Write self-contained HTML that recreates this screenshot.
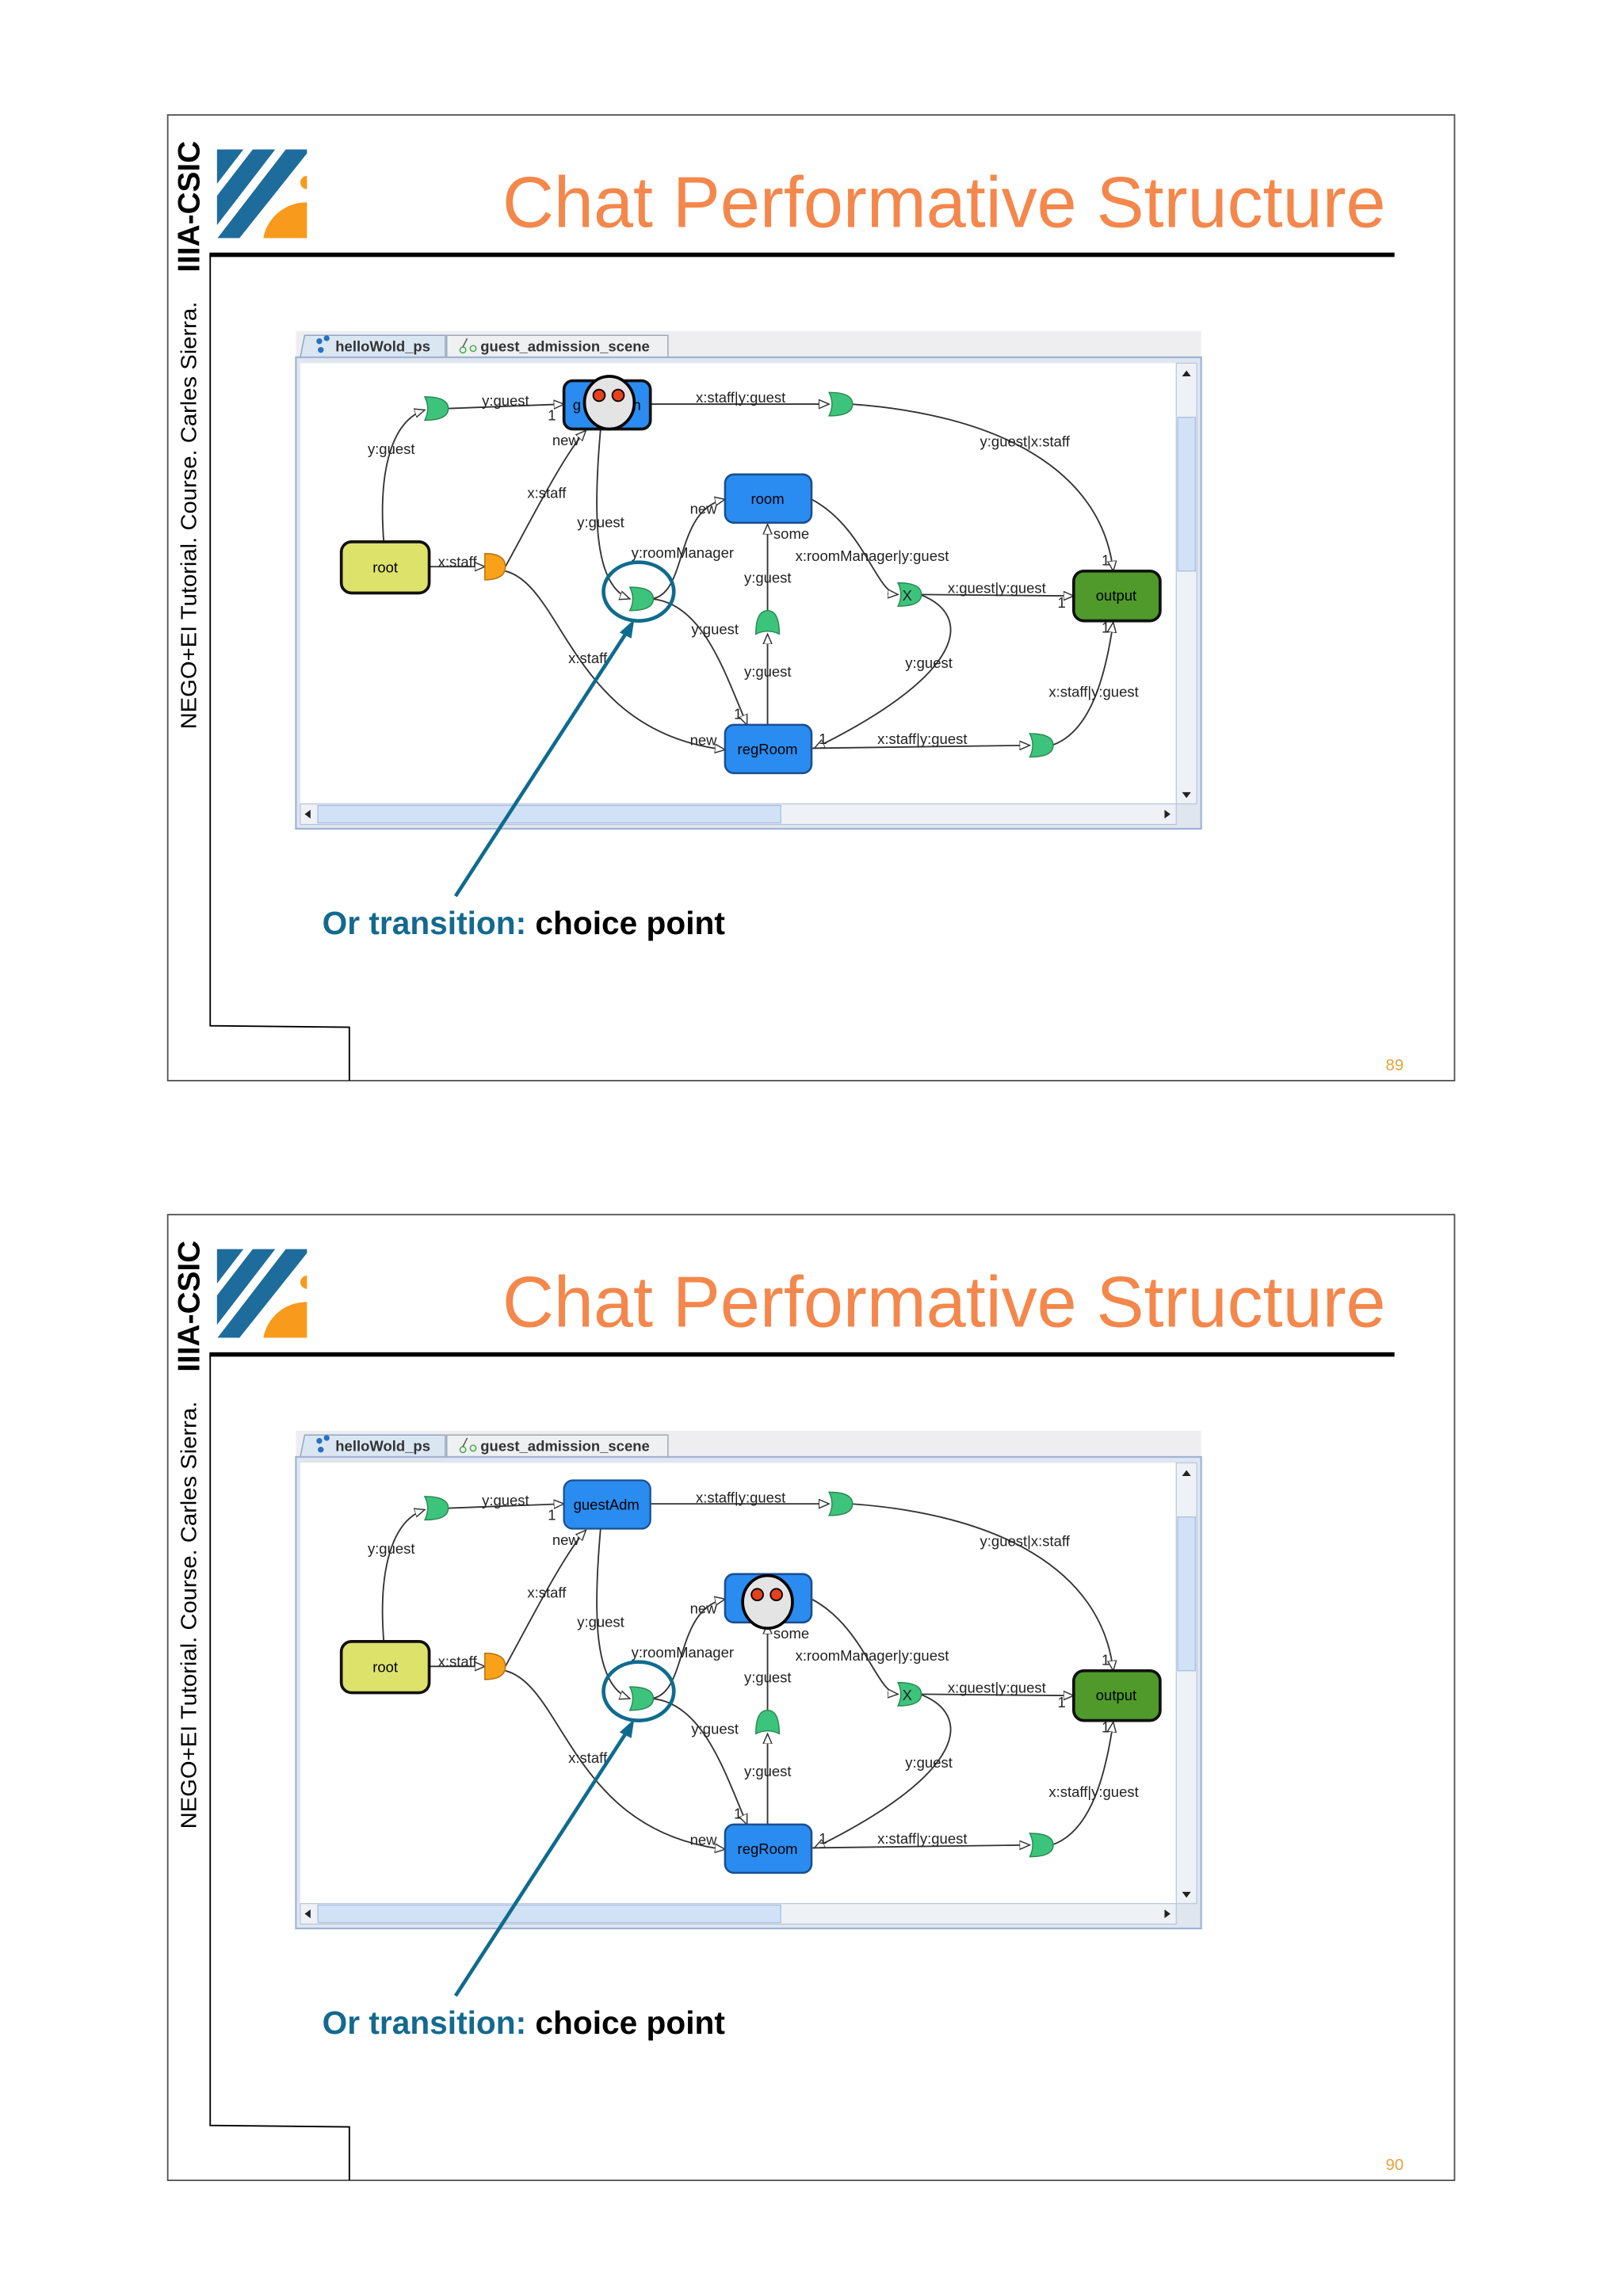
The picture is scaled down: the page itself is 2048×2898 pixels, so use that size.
<!DOCTYPE html>
<html><head><meta charset="utf-8"><style>
html,body{margin:0;padding:0;background:#fff;}
svg{display:block;}
text{font-family:"Liberation Sans",sans-serif;}
.lb{font-size:10px;fill:#222;}
.e{fill:none;stroke:#333;stroke-width:1;}
.tr{fill:#3dc47c;stroke:#2a8a55;stroke-width:0.8;}
.nd{stroke:#111;stroke-width:2;}
</style></head><body>
<svg width="2048" height="2898" viewBox="0 0 1108 1568" preserveAspectRatio="none" xmlns="http://www.w3.org/2000/svg">
<defs>
<marker id="ar" markerWidth="8" markerHeight="8" refX="7" refY="3.5" orient="auto" markerUnits="userSpaceOnUse">
<path d="M0,0.5 L7,3.5 L0,6.5 Z" fill="#fff" stroke="#333" stroke-width="0.8"/>
</marker>
</defs>

<!-- ================= SLIDE 1 ================= -->
<g>
<rect x="114.5" y="78.5" width="878.5" height="659.5" fill="#fff" stroke="#555" stroke-width="1"/>
<text transform="translate(136,186) rotate(-90)" font-size="21" font-weight="bold" fill="#000">IIIA-CSIC</text>
<text transform="translate(134,498) rotate(-90)" font-size="15" fill="#000" textLength="292" lengthAdjust="spacingAndGlyphs">NEGO+EI Tutorial. Course. Carles Sierra.</text>
<g transform="scale(0.542) translate(200,150) scale(0.3333)">
<polygon points="220,115 320,115 220,245" fill="#1d6c9c"/>
<polygon points="355,115 440,115 220,401 220,290" fill="#1d6c9c"/>
<polygon points="480,115 560,115 560,130 305,450 222,450" fill="#1d6c9c"/>
<path d="M395,450 A165,165 0 0 1 560,315 L560,450 Z" fill="#f89a1c"/>
<path d="M560,215 A25,25 0 0 0 560,265 Z" fill="#f89a1c"/>
</g>
<text x="343" y="155" font-size="49" fill="#f4874b" textLength="603" lengthAdjust="spacingAndGlyphs">Chat Performative Structure</text>
<rect x="143" y="172.5" width="809" height="3" fill="#000"/>
<path d="M143.5,174 L143.5,700.5 L238.5,701.5 L238.5,738" fill="none" stroke="#000" stroke-width="1"/>
<text x="946" y="731" font-size="11" fill="#e8a33a">89</text>

<rect x="202" y="226" width="618" height="19" fill="#eeeef0"/>
<path d="M205,244 L208,229 L304,229 L304,244" fill="#dbe6f3" stroke="#8fa5c4" stroke-width="0.8"/>
<path d="M305,244 L305,229 L456,229 L456,244" fill="#eef0f2" stroke="#a0a8b4" stroke-width="0.8"/>
<circle cx="218" cy="233" r="2" fill="#2a70c0"/><circle cx="223" cy="231" r="2" fill="#2a70c0"/><circle cx="219" cy="239" r="2" fill="#2a70c0"/>
<text x="229" y="240" font-size="10" font-weight="bold" fill="#333">helloWold_ps</text>
<circle cx="316" cy="239" r="2" fill="none" stroke="#4a4" stroke-width="0.8"/><circle cx="323" cy="238" r="2" fill="none" stroke="#4a4" stroke-width="0.8"/><path d="M316,237 L319,231" stroke="#555" stroke-width="0.8"/>
<text x="328" y="240" font-size="10" font-weight="bold" fill="#333">guest_admission_scene</text>
<rect x="202" y="244" width="618" height="322" fill="#dfe6f0" stroke="#9fb4d4" stroke-width="1.2"/>
<rect x="205" y="248" width="598" height="301" fill="#fff"/>
<rect x="803" y="248" width="14" height="301" fill="#eef1f5" stroke="#b5c2d6" stroke-width="0.6"/>
<rect x="804" y="285" width="12" height="105" fill="#d2e2f6" stroke="#9fb8da" stroke-width="0.6"/>
<path d="M807,257 L810,253 L813,257 Z" fill="#222"/><path d="M807,541 L810,545 L813,541 Z" fill="#222"/>
<rect x="205" y="549" width="598" height="14" fill="#eef1f5" stroke="#b5c2d6" stroke-width="0.6"/>
<rect x="217" y="550" width="316" height="12" fill="#d2e2f6" stroke="#9fb8da" stroke-width="0.6"/>
<path d="M212,553 L208,556 L212,559 Z" fill="#222"/><path d="M795,553 L799,556 L795,559 Z" fill="#222"/>

<path class="e" d="M262,370 C258,320 268,287 290,280" marker-end="url(#ar)"/>
<path class="e" d="M305,279 L385,276" marker-end="url(#ar)"/>
<path class="e" d="M293,387 L331,387" marker-end="url(#ar)"/>
<path class="e" d="M345,387 C360,360 385,310 400,294" marker-end="url(#ar)"/>
<path class="e" d="M345,390 C385,400 390,500 495,512" marker-end="url(#ar)"/>
<path class="e" d="M410,293 C405,350 405,400 430,409" marker-end="url(#ar)"/>
<path class="e" d="M445,409 C470,405 460,348 495,341" marker-end="url(#ar)"/>
<path class="e" d="M445,409 C480,412 495,460 510,495" marker-end="url(#ar)"/>
<path class="e" d="M524,495 L524,433" marker-end="url(#ar)"/>
<path class="e" d="M524,417 L524,358" marker-end="url(#ar)"/>
<path class="e" d="M444,276 L566,276" marker-end="url(#ar)"/>
<path class="e" d="M581,276 C680,283 752,320 760,390" marker-end="url(#ar)"/>
<path class="e" d="M554,341 C590,360 598,405 613,406" marker-end="url(#ar)"/>
<path class="e" d="M628,406 L733,407" marker-end="url(#ar)"/>
<path class="e" d="M628,406 C665,420 660,460 556,511" marker-end="url(#ar)"/>
<path class="e" d="M554,511 L703,509" marker-end="url(#ar)"/>
<path class="e" d="M718,509 C745,500 755,460 760,425" marker-end="url(#ar)"/>

<path class="tr" d="M290,271 Q306,271 306,279 Q306,287 290,287 Q294,279 290,271 Z"/>
<path class="tr" d="M566,268 Q582,268 582,276 Q582,284 566,284 Q570,276 566,268 Z"/>
<path class="tr" d="M430,401 Q446,401 446,409 Q446,417 430,417 Q434,409 430,401 Z"/>
<path class="tr" d="M613,398 Q629,398 629,406 Q629,414 613,414 Q617,406 613,398 Z"/>
<text x="616" y="410" font-size="10" fill="#222">X</text>
<path class="tr" d="M703,501 Q719,501 719,509 Q719,517 703,517 Q707,509 703,501 Z"/>
<path class="tr" d="M516,433 Q516,417 524,417 Q532,417 532,433 Q524,429 516,433 Z"/>
<path d="M331,378 Q345,378 345,387 Q345,396 331,396 Z" fill="#f8a21a" stroke="#b87010" stroke-width="0.8"/>

<rect class="nd" x="233" y="370" width="60" height="35" rx="7" fill="#dde36a"/>
<text x="263" y="391" font-size="10" text-anchor="middle">root</text>
<rect class="nd" x="385" y="260" width="59" height="33" rx="6" fill="#2a8cf0" stroke="#1a4f90" stroke-width="1.2"/>
<text x="391" y="280" font-size="10">g</text><text x="432" y="280" font-size="10">n</text>
<ellipse cx="416" cy="275" rx="17" ry="18" fill="#e4e4e4" stroke="#000" stroke-width="2"/>
<circle cx="409" cy="270" r="4" fill="#e8401c" stroke="#000" stroke-width="1"/>
<circle cx="422" cy="270" r="4" fill="#e8401c" stroke="#000" stroke-width="1"/>
<rect x="495" y="324" width="59" height="33" rx="6" fill="#2a8cf0" stroke="#1a4f90" stroke-width="1.4"/>
<text x="524" y="344" font-size="10" text-anchor="middle">room</text>
<rect x="495" y="495" width="59" height="33" rx="6" fill="#2a8cf0" stroke="#1a4f90" stroke-width="1.4"/>
<text x="524" y="515" font-size="10" text-anchor="middle">regRoom</text>
<rect class="nd" x="733" y="390" width="59" height="34" rx="7" fill="#4f9a2a"/>
<text x="762" y="410" font-size="10" text-anchor="middle">output</text>

<g class="lb">
<text x="251" y="310">y:guest</text>
<text x="329" y="277">y:guest</text><text x="374" y="287">1</text>
<text x="299" y="387">x:staff</text>
<text x="360" y="340">x:staff</text><text x="377" y="304">new</text>
<text x="388" y="453">x:staff</text><text x="471" y="509">new</text>
<text x="394" y="360">y:guest</text>
<text x="431" y="381">y:roomManager</text><text x="471" y="351">new</text>
<text x="472" y="433">y:guest</text><text x="501" y="491">1</text>
<text x="508" y="462">y:guest</text>
<text x="508" y="398">y:guest</text><text x="528" y="368">some</text>
<text x="475" y="275">x:staff|y:guest</text>
<text x="669" y="305">y:guest|x:staff</text><text x="752" y="386">1</text>
<text x="543" y="383">x:roomManager|y:guest</text>
<text x="647" y="405">x:guest|y:guest</text><text x="722" y="415">1</text>
<text x="618" y="456">y:guest</text><text x="559" y="508">1</text>
<text x="599" y="508">x:staff|y:guest</text>
<text x="716" y="476">x:staff|y:guest</text><text x="752" y="432">1</text>
</g>

<ellipse cx="436" cy="404" rx="24" ry="20" fill="none" stroke="#0f6b8e" stroke-width="2.5"/>
<path d="M311,612 L429,430" stroke="#0f6b8e" stroke-width="2.5" fill="none"/>
<path d="M433,423 L423,432 L431,436 Z" fill="#0f6b8e"/>
<text x="220" y="638" font-size="22" font-weight="bold" fill="#14698e">Or transition: <tspan fill="#000">choice point</tspan></text>
</g>

<!-- ================= SLIDE 2 ================= -->
<g transform="translate(0,751)">
<rect x="114.5" y="78.5" width="878.5" height="659.5" fill="#fff" stroke="#555" stroke-width="1"/>
<text transform="translate(136,186) rotate(-90)" font-size="21" font-weight="bold" fill="#000">IIIA-CSIC</text>
<text transform="translate(134,498) rotate(-90)" font-size="15" fill="#000" textLength="292" lengthAdjust="spacingAndGlyphs">NEGO+EI Tutorial. Course. Carles Sierra.</text>
<g transform="scale(0.542) translate(200,150) scale(0.3333)">
<polygon points="220,115 320,115 220,245" fill="#1d6c9c"/>
<polygon points="355,115 440,115 220,401 220,290" fill="#1d6c9c"/>
<polygon points="480,115 560,115 560,130 305,450 222,450" fill="#1d6c9c"/>
<path d="M395,450 A165,165 0 0 1 560,315 L560,450 Z" fill="#f89a1c"/>
<path d="M560,215 A25,25 0 0 0 560,265 Z" fill="#f89a1c"/>
</g>
<text x="343" y="155" font-size="49" fill="#f4874b" textLength="603" lengthAdjust="spacingAndGlyphs">Chat Performative Structure</text>
<rect x="143" y="172.5" width="809" height="3" fill="#000"/>
<path d="M143.5,174 L143.5,700.5 L238.5,701.5 L238.5,738" fill="none" stroke="#000" stroke-width="1"/>
<text x="946" y="731" font-size="11" fill="#e8a33a">90</text>

<rect x="202" y="226" width="618" height="19" fill="#eeeef0"/>
<path d="M205,244 L208,229 L304,229 L304,244" fill="#dbe6f3" stroke="#8fa5c4" stroke-width="0.8"/>
<path d="M305,244 L305,229 L456,229 L456,244" fill="#eef0f2" stroke="#a0a8b4" stroke-width="0.8"/>
<circle cx="218" cy="233" r="2" fill="#2a70c0"/><circle cx="223" cy="231" r="2" fill="#2a70c0"/><circle cx="219" cy="239" r="2" fill="#2a70c0"/>
<text x="229" y="240" font-size="10" font-weight="bold" fill="#333">helloWold_ps</text>
<circle cx="316" cy="239" r="2" fill="none" stroke="#4a4" stroke-width="0.8"/><circle cx="323" cy="238" r="2" fill="none" stroke="#4a4" stroke-width="0.8"/><path d="M316,237 L319,231" stroke="#555" stroke-width="0.8"/>
<text x="328" y="240" font-size="10" font-weight="bold" fill="#333">guest_admission_scene</text>
<rect x="202" y="244" width="618" height="322" fill="#dfe6f0" stroke="#9fb4d4" stroke-width="1.2"/>
<rect x="205" y="248" width="598" height="301" fill="#fff"/>
<rect x="803" y="248" width="14" height="301" fill="#eef1f5" stroke="#b5c2d6" stroke-width="0.6"/>
<rect x="804" y="285" width="12" height="105" fill="#d2e2f6" stroke="#9fb8da" stroke-width="0.6"/>
<path d="M807,257 L810,253 L813,257 Z" fill="#222"/><path d="M807,541 L810,545 L813,541 Z" fill="#222"/>
<rect x="205" y="549" width="598" height="14" fill="#eef1f5" stroke="#b5c2d6" stroke-width="0.6"/>
<rect x="217" y="550" width="316" height="12" fill="#d2e2f6" stroke="#9fb8da" stroke-width="0.6"/>
<path d="M212,553 L208,556 L212,559 Z" fill="#222"/><path d="M795,553 L799,556 L795,559 Z" fill="#222"/>

<path class="e" d="M262,370 C258,320 268,287 290,280" marker-end="url(#ar)"/>
<path class="e" d="M305,279 L385,276" marker-end="url(#ar)"/>
<path class="e" d="M293,387 L331,387" marker-end="url(#ar)"/>
<path class="e" d="M345,387 C360,360 385,310 400,294" marker-end="url(#ar)"/>
<path class="e" d="M345,390 C385,400 390,500 495,512" marker-end="url(#ar)"/>
<path class="e" d="M410,293 C405,350 405,400 430,409" marker-end="url(#ar)"/>
<path class="e" d="M445,409 C470,405 460,348 495,341" marker-end="url(#ar)"/>
<path class="e" d="M445,409 C480,412 495,460 510,495" marker-end="url(#ar)"/>
<path class="e" d="M524,495 L524,433" marker-end="url(#ar)"/>
<path class="e" d="M524,417 L524,358" marker-end="url(#ar)"/>
<path class="e" d="M444,276 L566,276" marker-end="url(#ar)"/>
<path class="e" d="M581,276 C680,283 752,320 760,390" marker-end="url(#ar)"/>
<path class="e" d="M554,341 C590,360 598,405 613,406" marker-end="url(#ar)"/>
<path class="e" d="M628,406 L733,407" marker-end="url(#ar)"/>
<path class="e" d="M628,406 C665,420 660,460 556,511" marker-end="url(#ar)"/>
<path class="e" d="M554,511 L703,509" marker-end="url(#ar)"/>
<path class="e" d="M718,509 C745,500 755,460 760,425" marker-end="url(#ar)"/>

<path class="tr" d="M290,271 Q306,271 306,279 Q306,287 290,287 Q294,279 290,271 Z"/>
<path class="tr" d="M566,268 Q582,268 582,276 Q582,284 566,284 Q570,276 566,268 Z"/>
<path class="tr" d="M430,401 Q446,401 446,409 Q446,417 430,417 Q434,409 430,401 Z"/>
<path class="tr" d="M613,398 Q629,398 629,406 Q629,414 613,414 Q617,406 613,398 Z"/>
<text x="616" y="410" font-size="10" fill="#222">X</text>
<path class="tr" d="M703,501 Q719,501 719,509 Q719,517 703,517 Q707,509 703,501 Z"/>
<path class="tr" d="M516,433 Q516,417 524,417 Q532,417 532,433 Q524,429 516,433 Z"/>
<path d="M331,378 Q345,378 345,387 Q345,396 331,396 Z" fill="#f8a21a" stroke="#b87010" stroke-width="0.8"/>

<rect class="nd" x="233" y="370" width="60" height="35" rx="7" fill="#dde36a"/>
<text x="263" y="391" font-size="10" text-anchor="middle">root</text>
<rect x="385" y="260" width="59" height="33" rx="6" fill="#2a8cf0" stroke="#1a4f90" stroke-width="1.2"/>
<text x="414" y="280" font-size="10" text-anchor="middle">guestAdm</text>
<rect x="495" y="324" width="59" height="33" rx="6" fill="#2a8cf0" stroke="#1a4f90" stroke-width="1.4"/>
<ellipse cx="524" cy="343" rx="17" ry="18" fill="#e4e4e4" stroke="#000" stroke-width="2"/>
<circle cx="517" cy="338" r="4" fill="#e8401c" stroke="#000" stroke-width="1"/>
<circle cx="530" cy="338" r="4" fill="#e8401c" stroke="#000" stroke-width="1"/>
<rect x="495" y="495" width="59" height="33" rx="6" fill="#2a8cf0" stroke="#1a4f90" stroke-width="1.4"/>
<text x="524" y="515" font-size="10" text-anchor="middle">regRoom</text>
<rect class="nd" x="733" y="390" width="59" height="34" rx="7" fill="#4f9a2a"/>
<text x="762" y="410" font-size="10" text-anchor="middle">output</text>

<g class="lb">
<text x="251" y="310">y:guest</text>
<text x="329" y="277">y:guest</text><text x="374" y="287">1</text>
<text x="299" y="387">x:staff</text>
<text x="360" y="340">x:staff</text><text x="377" y="304">new</text>
<text x="388" y="453">x:staff</text><text x="471" y="509">new</text>
<text x="394" y="360">y:guest</text>
<text x="431" y="381">y:roomManager</text><text x="471" y="351">new</text>
<text x="472" y="433">y:guest</text><text x="501" y="491">1</text>
<text x="508" y="462">y:guest</text>
<text x="508" y="398">y:guest</text><text x="528" y="368">some</text>
<text x="475" y="275">x:staff|y:guest</text>
<text x="669" y="305">y:guest|x:staff</text><text x="752" y="386">1</text>
<text x="543" y="383">x:roomManager|y:guest</text>
<text x="647" y="405">x:guest|y:guest</text><text x="722" y="415">1</text>
<text x="618" y="456">y:guest</text><text x="559" y="508">1</text>
<text x="599" y="508">x:staff|y:guest</text>
<text x="716" y="476">x:staff|y:guest</text><text x="752" y="432">1</text>
</g>

<ellipse cx="436" cy="404" rx="24" ry="20" fill="none" stroke="#0f6b8e" stroke-width="2.5"/>
<path d="M311,612 L429,430" stroke="#0f6b8e" stroke-width="2.5" fill="none"/>
<path d="M433,423 L423,432 L431,436 Z" fill="#0f6b8e"/>
<text x="220" y="638" font-size="22" font-weight="bold" fill="#14698e">Or transition: <tspan fill="#000">choice point</tspan></text>
</g>
</svg>
</body></html>
